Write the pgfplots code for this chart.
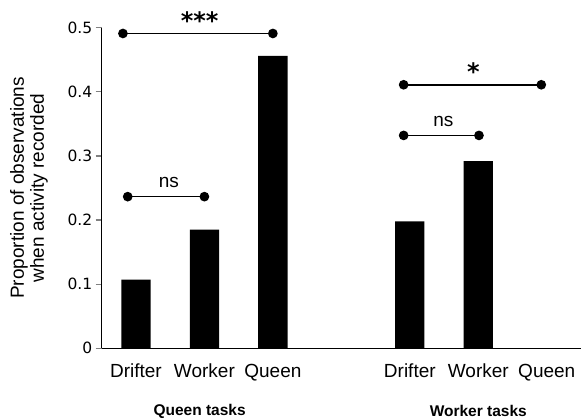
\documentclass[border=0pt]{standalone}
\usepackage{pgfplots}
\pgfplotsset{compat=1.18}
\usepackage{fontspec}
\setmainfont{Liberation Sans}
\newfontfamily\dejavu{DejaVu Sans}

\begin{document}
\begin{tikzpicture}
\begin{axis}[
	name=ax,
	scale only axis,width=479.3pt,height=320.6pt,
	xmin=-0.5,xmax=6.5,ymin=0,ymax=0.5,
	axis x line=bottom,axis y line=left,
	axis line style={-,line width=1.2pt},
	clip=false,
	xtick={0,1,2,4,5,6},
	xticklabels={Drifter,Worker,Queen,Drifter,Worker,Queen},
	xtick style={draw=none},
	xticklabel style={font=\fontsize{19}{21}\selectfont,yshift=-6pt},
	ytick={0,0.1,0.2,0.3,0.4,0.5},
	yticklabels={0,0.1,0.2,0.3,0.4,0.5},
	yticklabel style={font=\dejavu\fontsize{15.5}{17}\selectfont},
	tick align=outside,major tick length=6pt,
	ytick style={line width=1.2pt},
	]
\addplot[ybar,bar width=29.3pt,fill=black,draw=none] coordinates {
	(0,0.107) (1,0.185) (2,0.456) (4,0.198) (5,0.292)};
% significance brackets
\addplot[black,line width=1.6pt,mark=*,mark size=4pt] coordinates {(-0.19,0.491) (2,0.491)};
\addplot[black,line width=1.6pt,mark=*,mark size=4pt] coordinates {(-0.12,0.2365) (1,0.2365)};
\addplot[black,line width=1.6pt,mark=*,mark size=4pt] coordinates {(3.91,0.411) (5.92,0.411)};
\addplot[black,line width=1.6pt,mark=*,mark size=4pt] coordinates {(3.91,0.332) (5.01,0.332)};
\node[font=\dejavu\bfseries\fontsize{24}{26}\selectfont] at (axis cs:0.93,0.511) {***};
\node[font=\dejavu\bfseries\fontsize{24}{26}\selectfont] at (axis cs:4.93,0.431) {*};
\node[font=\fontsize{19}{21}\selectfont] at (axis cs:0.48,0.258) {ns};
\node[font=\fontsize{19}{21}\selectfont] at (axis cs:4.49,0.353) {ns};
\node[rotate=90,align=center,font=\fontsize{19}{20}\selectfont] at ([xshift=-72.7pt]axis description cs:0,0.5) {Proportion of observations\\when activity recorded};
\node[font=\bfseries\fontsize{15.5}{17}\selectfont] at ([yshift=-63pt]axis cs:0.93,0) {Queen tasks};
\node[font=\bfseries\fontsize{15.5}{17}\selectfont] at ([yshift=-63pt]axis cs:5,0) {Worker tasks};
\end{axis}
\pgfresetboundingbox
\useasboundingbox (ax.south west) ++(-101.7pt,-70.7pt) rectangle ++(581pt,419pt);
\end{tikzpicture}
\end{document}
